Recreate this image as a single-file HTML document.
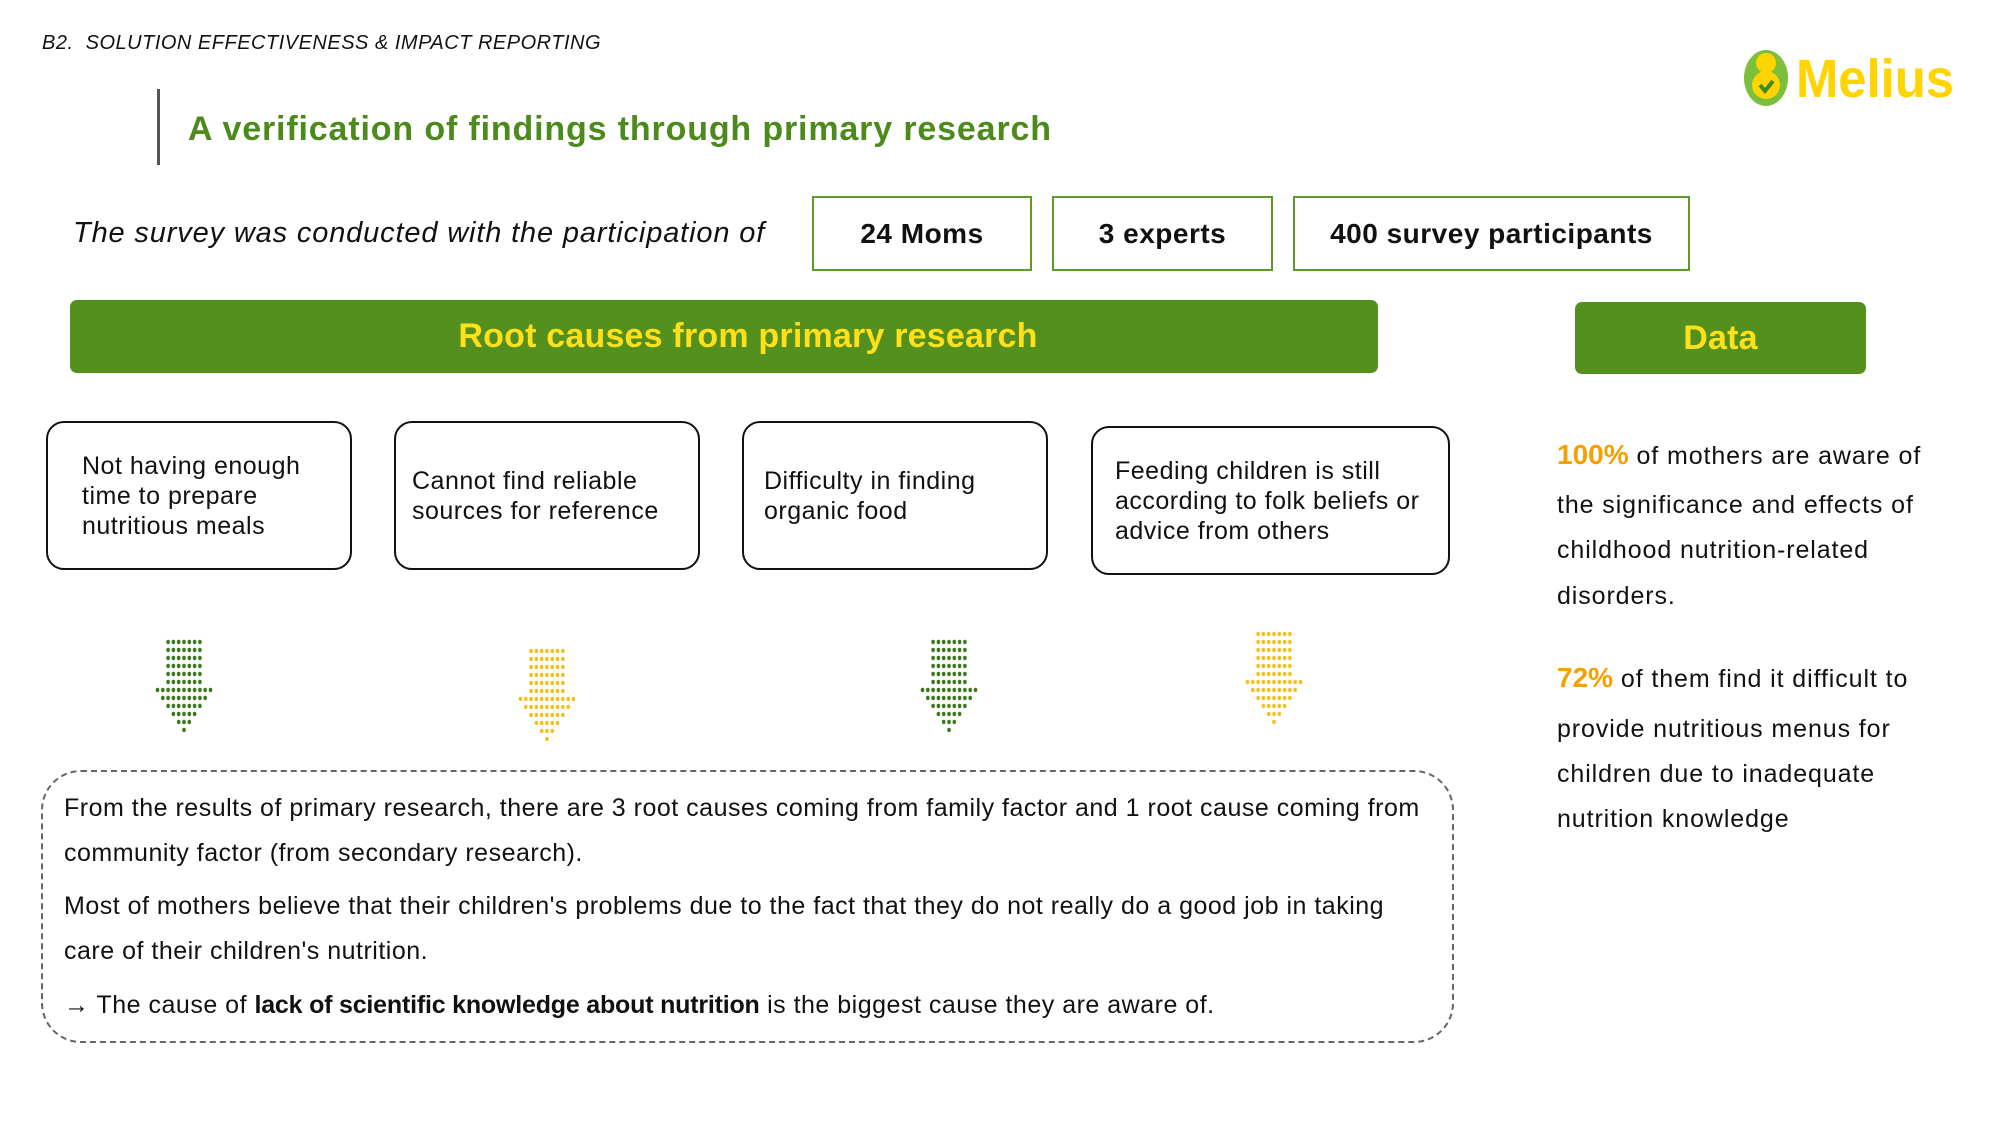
<!DOCTYPE html>
<html><head><meta charset="utf-8">
<style>
*{margin:0;padding:0;box-sizing:border-box}
body{width:2000px;height:1125px;background:#fff;position:relative;overflow:hidden;font-family:"Liberation Sans",sans-serif;color:#111}
.a{position:absolute;white-space:nowrap}
.box{position:absolute;border:2px solid #5c9a2a;display:flex;align-items:center;justify-content:center;font-weight:bold;font-size:28px;letter-spacing:0.5px;color:#111}
.bar{position:absolute;background:#54901e;border-radius:7px;display:flex;align-items:center;justify-content:center;color:#ffe01b;font-weight:bold;font-size:34px;letter-spacing:0.2px}
.cause{position:absolute;border:2px solid #111;border-radius:18px;display:flex;align-items:center;font-size:25px;letter-spacing:0.5px;line-height:30px;padding-left:34px;white-space:nowrap}
.dash{position:absolute;left:41px;top:770px;width:1413px;height:273px;border:2px dashed #666;border-radius:40px}
.p{font-size:25px;letter-spacing:0.5px;line-height:45px;position:absolute;left:64px;white-space:nowrap}
.p b{letter-spacing:-0.2px}
.r{font-size:25px;letter-spacing:0.9px;position:absolute;left:1557px;line-height:30px;white-space:nowrap}
.pc{color:#f5a000;font-weight:bold;font-size:28px;letter-spacing:0}
</style></head><body>
<div class="a" style="left:42px;top:32px;font-size:20px;font-style:italic;letter-spacing:0.5px">B2.&nbsp; SOLUTION EFFECTIVENESS &amp; IMPACT REPORTING</div>
<div class="a" style="left:157px;top:89px;width:3px;height:76px;background:#555"></div>
<div class="a" style="left:188px;top:110px;font-size:34px;font-weight:bold;color:#4c8a1c;letter-spacing:0.85px">A verification of findings through primary research</div>

<svg class="a" style="left:1740px;top:44px" width="220" height="64" viewBox="0 0 220 64">
<ellipse cx="26" cy="34" rx="22" ry="28" fill="#7cbf3c"/>
<circle cx="26" cy="19" r="10" fill="#ffd400"/>
<circle cx="26" cy="41" r="14" fill="#ffd400"/>
<path d="M20 41 L25 47 L33 37" stroke="#3d8a1e" stroke-width="4" fill="none"/>
<text x="56" y="53" font-family="Liberation Sans" font-weight="bold" font-size="54" fill="#ffd400" textLength="158" lengthAdjust="spacingAndGlyphs">Melius</text>
</svg>

<div class="a" style="left:73px;top:217px;font-size:29px;font-style:italic;letter-spacing:0.85px">The survey was conducted with the participation of</div>
<div class="box" style="left:812px;top:196px;width:220px;height:75px">24 Moms</div>
<div class="box" style="left:1052px;top:196px;width:221px;height:75px">3 experts</div>
<div class="box" style="left:1293px;top:196px;width:397px;height:75px">400 survey participants</div>

<div class="bar" style="left:70px;top:300px;width:1308px;height:73px;padding-left:48px">Root causes from primary research</div>
<div class="bar" style="left:1575px;top:302px;width:291px;height:72px">Data</div>

<div class="cause" style="left:46px;top:421px;width:306px;height:149px">Not having enough<br>time to prepare<br>nutritious meals</div>
<div class="cause" style="left:394px;top:421px;width:306px;height:149px;padding-left:16px">Cannot find reliable<br>sources for reference</div>
<div class="cause" style="left:742px;top:421px;width:306px;height:149px;padding-left:20px">Difficulty in finding<br>organic food</div>
<div class="cause" style="left:1091px;top:426px;width:359px;height:149px;padding-left:22px">Feeding children is still<br>according to folk beliefs or<br>advice from others</div>

<svg class="a" style="left:0;top:0" width="2000" height="1125" id="arr"></svg>

<div class="dash"></div>
<div class="p" style="top:786px">From the results of primary research, there are 3 root causes coming from family factor and 1 root cause coming from<br>community factor (from secondary research).</div>
<div class="p" style="top:884px">Most of mothers believe that their children's problems due to the fact that they do not really do a good job in taking<br>care of their children's nutrition.</div>
<div class="p" style="top:983px">→ The cause of <b>lack of scientific knowledge about nutrition</b> is the biggest cause they are aware of.</div>

<div class="r" style="top:440px"><span class="pc">100%</span> of mothers are aware of</div>
<div class="r" style="top:490px">the significance and effects of</div>
<div class="r" style="top:535px">childhood nutrition-related</div>
<div class="r" style="top:581px">disorders.</div>
<div class="r" style="top:663px"><span class="pc">72%</span> of them find it difficult to</div>
<div class="r" style="top:714px">provide nutritious menus for</div>
<div class="r" style="top:759px">children due to inadequate</div>
<div class="r" style="top:804px">nutrition knowledge</div>

<script>
var s=document.getElementById('arr'),h='';
function arrow(cx,top,col){
 var rows=[7,7,7,7,7,7,11,9,7,5,3,1];
 for(var i=0;i<rows.length;i++){var n=rows[i];for(var j=0;j<n;j++){
  var x=cx+(j-(n-1)/2)*5.3,y=top+i*8;
  h+='<ellipse cx="'+x+'" cy="'+y+'" rx="1.8" ry="2.2" fill="'+col+'"/>';}}
}
arrow(184,642,'#3a7a1a');arrow(547,651,'#f5c020');arrow(949,642,'#3a7a1a');arrow(1274,634,'#f5c020');
s.innerHTML=h;
</script>
</body></html>
